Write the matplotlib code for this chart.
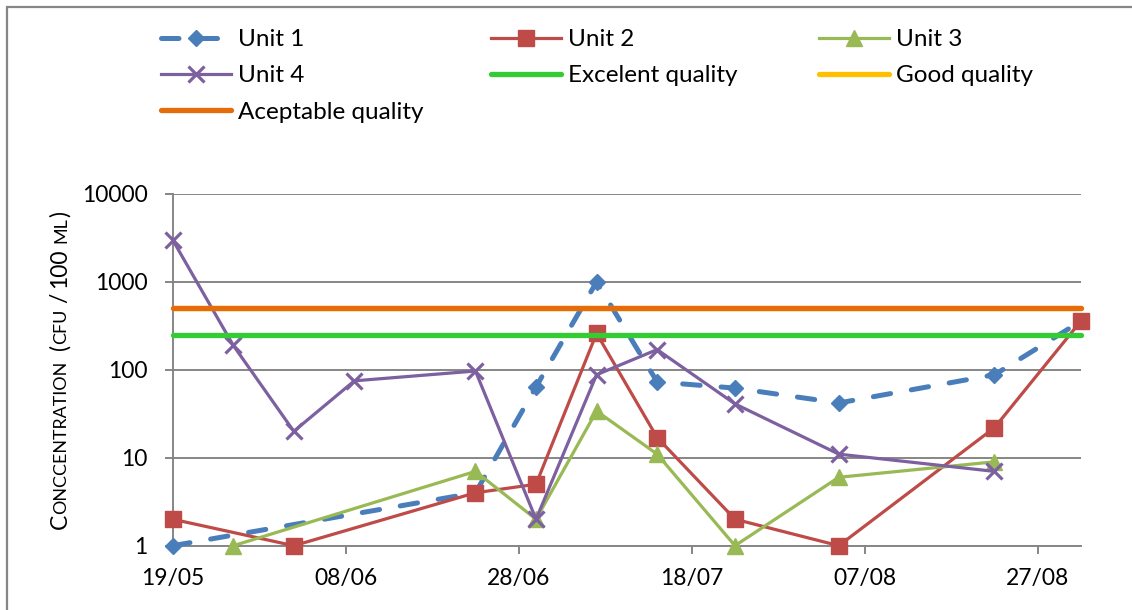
import datetime as dt
import matplotlib
matplotlib.use("Agg")
import matplotlib.pyplot as plt
import matplotlib.dates as mdates
from matplotlib.ticker import FixedLocator, NullLocator
from matplotlib.patches import Rectangle

plt.rcParams['font.family'] = ['Lato', 'DejaVu Sans']

# ---------------- data ----------------
YEAR = 2013
unit1_dates = ["19/05", "23/06", "30/06", "07/07", "14/07", "23/07", "04/08", "22/08", "01/09"]
unit1_vals = [1, 4, 64, 1000, 73, 62, 42, 88, 358]

unit2_dates = ["19/05", "02/06", "23/06", "30/06", "07/07", "14/07", "23/07", "04/08", "22/08", "01/09"]
unit2_vals = [2, 1, 4, 5, 260, 17, 2, 1, 22, 360]

unit3_dates = ["26/05", "23/06", "30/06", "07/07", "14/07", "23/07", "04/08", "22/08"]
unit3_vals = [1, 7, 2, 34, 11, 1, 6, 9]

unit4_dates = ["19/05", "26/05", "02/06", "09/06", "23/06", "30/06", "07/07", "14/07", "23/07", "04/08", "22/08"]
unit4_vals = [3000, 190, 20, 75, 97, 2, 88, 170, 41, 11, 7]

quality_dates = ["19/05", "01/09"]
excellent_vals = [250, 250]
good_vals = [500, 500]
acceptable_vals = [500, 500]

x_tick_labels = ["19/05", "08/06", "28/06", "18/07", "07/08", "27/08"]
y_tick_vals = [1, 10, 100, 1000, 10000]
y_tick_labels = ["1", "10", "100", "1000", "10000"]
x_limits = ["19/05", "01/09"]


def to_date(s):
    dd, mm = s.split("/")
    return dt.date(YEAR, int(mm), int(dd))


def dates(lst):
    return [to_date(s) for s in lst]


# ---------------- figure ----------------
W, H = 1132, 610
fig = plt.figure(figsize=(W / 100, H / 100), dpi=100)
ax_l, ax_r, ax_t, ax_b = 172.7, 1081, 194, 545.7
ax = fig.add_axes([ax_l / W, 1 - ax_b / H, (ax_r - ax_l) / W, (ax_b - ax_t) / H])

GRID = "#868686"
C1, C2, C3, C4 = "#4A7EBB", "#BE4B48", "#98B954", "#7D60A0"
C_EXC, C_GOOD, C_ACC = "#33CC33", "#FFC000", "#E46C0A"

FS = 16.5
FS_LEG = 17.5

l1, = ax.plot(dates(unit1_dates), unit1_vals, color=C1, lw=3.6, dashes=(3.5, 4.2),
              dash_capstyle="round", marker="D", ms=8, mfc=C1, mec=C1,
              clip_on=False, zorder=3, label="Unit 1")
l2, = ax.plot(dates(unit2_dates), unit2_vals, color=C2, lw=2.3, marker="s", ms=11.5,
              mfc=C2, mec=C2, solid_joinstyle="round", clip_on=False, zorder=3, label="Unit 2")
l3, = ax.plot(dates(unit3_dates), unit3_vals, color=C3, lw=2.3, marker="^", ms=11,
              mfc=C3, mec=C3, solid_joinstyle="round", clip_on=False, zorder=3, label="Unit 3")
l4, = ax.plot(dates(unit4_dates), unit4_vals, color=C4, lw=2.3, marker="x", ms=11,
              mew=2.3, mec=C4, solid_joinstyle="round", clip_on=False, zorder=3, label="Unit 4")
l5, = ax.plot(dates(quality_dates), excellent_vals, color=C_EXC, lw=3.8,
              solid_capstyle="round", clip_on=False, zorder=4, label="Excelent quality")
l6, = ax.plot(dates(quality_dates), good_vals, color=C_GOOD, lw=3.8,
              solid_capstyle="round", clip_on=False, zorder=4, label="Good quality")
l7, = ax.plot(dates(quality_dates), acceptable_vals, color=C_ACC, lw=3.8,
              solid_capstyle="round", clip_on=False, zorder=4, label="Aceptable quality")

ax.set_yscale("log")
ax.set_ylim(y_tick_vals[0], y_tick_vals[-1])
ax.yaxis.set_major_locator(FixedLocator(y_tick_vals))
ax.yaxis.set_minor_locator(NullLocator())
ax.set_yticklabels(y_tick_labels)

ax.set_xlim(to_date(x_limits[0]), to_date(x_limits[1]))
ax.set_xticks(dates(x_tick_labels))
ax.set_xticklabels(x_tick_labels)
ax.xaxis.set_minor_locator(NullLocator())

ax.grid(True, axis="y", color=GRID, lw=1.4)
ax.set_axisbelow(True)
for s in ("top", "right"):
    ax.spines[s].set_visible(False)
for s in ("left", "bottom"):
    ax.spines[s].set_color(GRID)
    ax.spines[s].set_linewidth(1.4)
ax.tick_params(axis="y", direction="out", length=5.5, width=1.4, color=GRID,
               pad=12.5, labelsize=FS, labelcolor="black")
ax.tick_params(axis="x", direction="out", length=5.5, width=1.4, color=GRID,
               pad=10.5, labelsize=FS, labelcolor="black")

# ---------------- legend (three fixed columns) ----------------
leg_kw = dict(loc="upper left", frameon=False, fontsize=FS_LEG, borderpad=0,
              borderaxespad=0, handlelength=2.9, handletextpad=0.25,
              labelspacing=0.63, ncol=1)
col_x = [161, 491, 819]
top_y = 29
cols = [[l1, l4, l7], [l2, l5], [l3, l6]]
for cx, hs in zip(col_x, cols):
    lg = fig.legend(hs, [h.get_label() for h in hs],
                    bbox_to_anchor=(cx / W, 1 - top_y / H), **leg_kw)

# ---------------- chart border ----------------
fig.patches.append(Rectangle((7 / W, -0.5), 2.0, 0.5 + 1 - 7 / H, transform=fig.transFigure,
                             fill=False, edgecolor=GRID, lw=1.6, zorder=0))

# ---------------- small-caps y label ----------------
big, small = FS, FS * 0.78
pieces = [("C", big), ("ONCCENTRATION", small), (None, 11), ("(", big), ("CFU", small),
          (None, 5), ("/", big), (None, 5), ("100", big), (None, 5), ("ML", small), (None, 1),
          (")", big)]
renderer = fig.canvas.get_renderer()
texts = []
total = 0.0
for s, v in pieces:
    if s is None:
        texts.append((None, v))
        total += v
    else:
        t = fig.text(0, 0, s, fontsize=v, rotation=90, rotation_mode="anchor",
                     ha="left", va="baseline")
        h = t.get_window_extent(renderer).height
        texts.append((t, h))
        total += h
center = H - (ax_t + ax_b) / 2
y = center - total / 2
base_x = 66.5
for t, h in texts:
    if t is not None:
        t.set_position((base_x / W, y / H))
    y += h

fig.savefig("out.png", dpi=100)
